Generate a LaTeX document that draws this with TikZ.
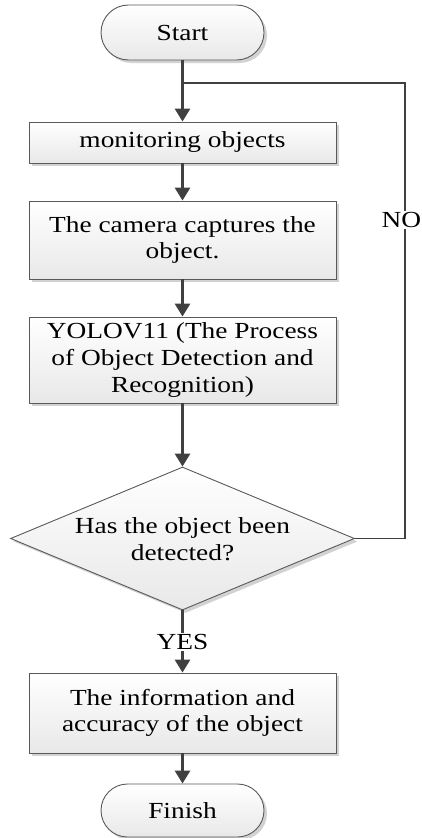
\documentclass[tikz,border=0pt]{standalone}
\usepackage{fontspec}
\setmainfont{Liberation Serif}[FakeStretch=1.19]
\usetikzlibrary{shapes.geometric,shapes.misc,shadows,arrows.meta}
\begin{document}
\begin{tikzpicture}[x=1pt,y=1pt,
  txt/.style={font=\fontsize{23}{26.7}\selectfont, align=center},
  base/.style={txt, draw=black!65, line width=0.9pt, top color=white, bottom color=black!9,
    drop shadow={shadow xshift=3pt,shadow yshift=-3pt,fill=black!35,opacity=0.5}, inner sep=0pt},
  procbox/.style={base, rectangle, minimum width=307pt},
  term/.style={base, rounded rectangle, minimum width=163pt, minimum height=55pt},
  decision/.style={base, diamond, minimum width=344pt, minimum height=143pt},
  flow/.style={draw=black!75, line width=3pt, -{Triangle[width=15pt,length=13pt]}},
  plainflow/.style={draw=black!75, line width=3pt},
  loopline/.style={draw=black!75, line width=1.6pt},
  lbl/.style={txt, fill=white, inner sep=1.5pt}
]
\useasboundingbox (0,0) rectangle (422,-838);
\node[term] (start) at (182.5,-32.5) {Start};
\node[procbox, minimum height=41pt] (mon) at (182.5,-142.5) {monitoring objects};
\node[procbox, minimum height=78pt] (cam) at (182.5,-240) {The camera captures the\\object.};
\node[procbox, minimum height=86pt] (yolo) at (182.5,-360) {YOLOV11 (The Process\\of Object Detection and\\Recognition)};
\node[decision] (dec) at (182.5,-538.5) {};
\node[txt] (dectext) at (182.5,-539) {Has the object been\\detected?};
\node[procbox, minimum height=80pt] (info) at (182.5,-713) {The information and\\accuracy of the object};
\node[term, minimum height=53pt] (finish) at (182.5,-810.5) {Finish};
\node[lbl] (yes) at (182.5,-642) {YES};
\node[lbl, inner xsep=0pt] (no) at (401.5,-220) {NO};
\coordinate (loopR) at (405,-538.5);
\coordinate (loopT) at (405,-83);
\coordinate (join) at (182.5,-83);
\draw[flow] (start.south) -- (mon.north);
\draw[flow] (mon.south) -- (cam.north);
\draw[flow] (cam.south) -- (yolo.north);
\draw[flow] (yolo.south) -- (dec.north);
\draw[plainflow] (dec.south) -- (yes.north);
\draw[flow] (yes.south) -- (info.north);
\draw[flow] (info.south) -- (finish.north);
\draw[loopline] (dec.east) -- (loopR) -- (loopR |- no.south);
\draw[loopline] (loopR |- no.north) -- (loopT) -- (join);
\end{tikzpicture}
\end{document}
